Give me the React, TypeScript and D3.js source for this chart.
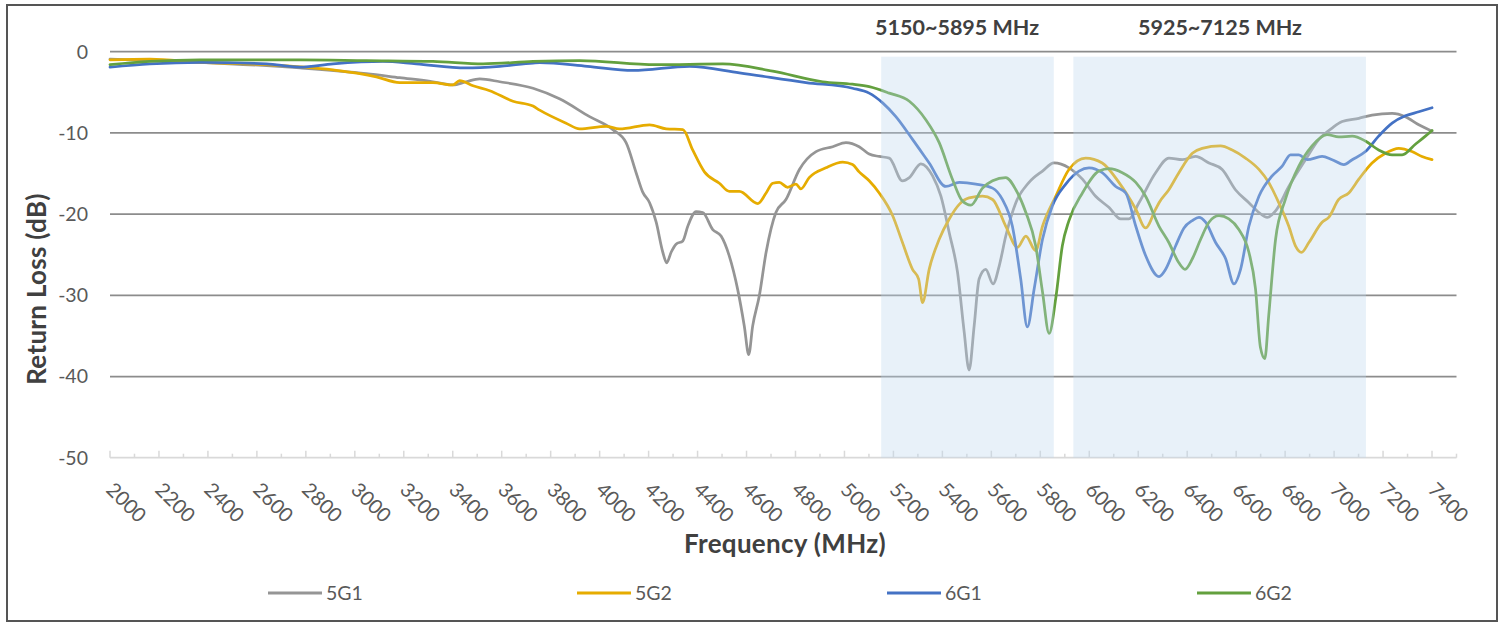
import React from "react";
import * as d3 from "d3";

type Pt = [number, number];

const seriesNames = ["5G1", "5G2", "6G1", "6G2"];
const seriesColors = ["#959595", "#E6AC00", "#4472C4", "#63A03E"];

const s5G1: Pt[] = [
  [2000, -0.9], [2367, -1.3], [2776, -2.0], [3047, -2.7], [3183, -3.2], [3319, -3.7], [3401, -4.1], [3455, -3.7],
  [3510, -3.35], [3592, -3.7], [3728, -4.5], [3836, -5.8], [3959, -8.0], [4054, -9.6], [4108, -11.2], [4149, -14.9],
  [4176, -17.3], [4204, -18.6], [4231, -21.0], [4258, -24.7], [4274, -26.0], [4292, -24.7], [4312, -23.7], [4340, -23.3],
  [4360, -21.5], [4394, -19.7], [4421, -19.8], [4462, -21.9], [4496, -22.7], [4530, -25.2], [4564, -29.3], [4591, -33.8],
  [4609, -37.3], [4625, -33.8], [4652, -30.1], [4680, -24.7], [4720, -19.8], [4761, -18.2], [4816, -14.5], [4884, -12.3],
  [4952, -11.7], [5006, -11.2], [5060, -11.7], [5101, -12.6], [5142, -12.9], [5183, -13.1], [5237, -15.9], [5265, -15.5],
  [5312, -13.8], [5360, -15.3], [5394, -17.8], [5428, -22.3], [5462, -27.2], [5489, -34.5], [5509, -39.2], [5530, -33.7],
  [5550, -28.0], [5577, -26.8], [5607, -28.6], [5632, -26.4], [5659, -22.7], [5700, -18.6], [5754, -16.1], [5809, -14.7],
  [5856, -13.7], [5917, -14.3], [5972, -15.7], [6026, -17.8], [6081, -19.2], [6128, -20.6], [6162, -20.6], [6203, -18.6],
  [6271, -14.9], [6325, -13.1], [6380, -13.3], [6434, -12.9], [6489, -13.7], [6543, -14.5], [6597, -17.0], [6652, -18.6],
  [6693, -19.8], [6727, -20.4], [6761, -19.6], [6815, -16.6], [6883, -13.3], [6938, -10.8], [6992, -9.4], [7033, -8.6],
  [7101, -8.2], [7155, -7.8], [7237, -7.6], [7291, -8.0], [7346, -9.0], [7400, -9.8],
];

const s5G2: Pt[] = [
  [2000, -1.0], [2163, -0.9], [2367, -1.3], [2639, -1.6], [2911, -2.25], [3020, -2.7], [3088, -3.1], [3183, -3.8],
  [3319, -3.8], [3401, -4.1], [3428, -3.55], [3483, -4.2], [3551, -4.8], [3646, -6.1], [3728, -6.7], [3755, -7.2],
  [3863, -8.8], [3918, -9.5], [4027, -9.2], [4081, -9.5], [4204, -9.0], [4272, -9.5], [4340, -9.6], [4380, -12.1],
  [4428, -14.8], [4489, -16.2], [4530, -17.2], [4571, -17.2], [4646, -18.7], [4680, -17.4], [4707, -16.2], [4734, -16.1],
  [4768, -16.7], [4802, -16.3], [4822, -16.9], [4856, -15.5], [4924, -14.3], [4993, -13.6], [5033, -13.9], [5060, -14.8],
  [5101, -15.9], [5142, -17.4], [5197, -20.2], [5237, -23.5], [5278, -26.8], [5303, -28.0], [5319, -30.9], [5346, -26.8],
  [5387, -23.1], [5428, -20.6], [5469, -18.8], [5509, -18.0], [5564, -17.8], [5605, -18.2], [5659, -21.5], [5707, -24.1],
  [5741, -22.7], [5781, -24.5], [5809, -21.5], [5863, -17.8], [5917, -14.5], [5985, -13.1], [6053, -13.7], [6121, -16.1],
  [6190, -19.4], [6230, -21.7], [6271, -19.4], [6285, -18.6], [6325, -17.0], [6366, -14.9], [6421, -12.5], [6461, -11.9],
  [6536, -11.6], [6584, -12.1], [6638, -13.1], [6693, -14.5], [6733, -16.1], [6774, -18.6], [6815, -21.5], [6842, -23.9],
  [6867, -24.7], [6897, -23.5], [6951, -21.0], [6978, -20.4], [7019, -18.2], [7060, -17.4], [7101, -15.7], [7155, -13.7],
  [7210, -12.5], [7264, -11.9], [7318, -12.3], [7359, -12.9], [7400, -13.3],
];

const s6G1: Pt[] = [
  [2000, -1.9], [2163, -1.5], [2367, -1.3], [2639, -1.5], [2776, -1.9], [2911, -1.5], [3115, -1.2], [3251, -1.5],
  [3455, -2.0], [3592, -1.8], [3728, -1.4], [3755, -1.35], [3950, -1.8], [4136, -2.3], [4367, -1.8], [4571, -2.6],
  [4843, -3.8], [5033, -4.5], [5101, -5.1], [5156, -6.3], [5210, -8.0], [5278, -10.8], [5346, -13.7], [5414, -16.6],
  [5469, -16.1], [5537, -16.3], [5605, -16.8], [5645, -18.2], [5686, -21.5], [5720, -28.0], [5747, -33.9], [5775, -29.2],
  [5809, -23.1], [5849, -19.0], [5904, -16.3], [5958, -14.7], [5999, -14.3], [6053, -14.9], [6108, -16.6], [6149, -17.4],
  [6190, -21.5], [6230, -25.1], [6285, -27.7], [6312, -26.8], [6353, -23.9], [6387, -21.7], [6421, -20.8], [6448, -20.4],
  [6475, -21.0], [6516, -23.5], [6557, -25.5], [6591, -28.6], [6618, -26.8], [6652, -21.5], [6693, -17.8], [6747, -15.3],
  [6788, -14.1], [6822, -12.7], [6856, -12.7], [6890, -13.3], [6951, -12.9], [6992, -13.3], [7040, -13.9], [7074, -13.3],
  [7128, -12.3], [7182, -10.4], [7237, -8.8], [7291, -7.9], [7346, -7.4], [7400, -6.9],
];

const s6G2: Pt[] = [
  [2000, -1.6], [2163, -1.2], [2367, -1.0], [2776, -1.0], [3047, -1.1], [3319, -1.2], [3524, -1.5], [3728, -1.2],
  [3918, -1.1], [4231, -1.6], [4503, -1.5], [4707, -2.4], [4911, -3.7], [5033, -4.0], [5101, -4.3], [5183, -5.1],
  [5265, -6.1], [5333, -8.4], [5387, -11.2], [5441, -15.7], [5482, -18.4], [5516, -18.9], [5564, -16.8], [5605, -15.9],
  [5659, -15.5], [5700, -17.0], [5741, -19.8], [5781, -23.9], [5809, -29.6], [5836, -34.7], [5863, -30.4], [5890, -23.9],
  [5917, -20.8], [5972, -17.4], [6040, -14.7], [6081, -14.4], [6135, -14.9], [6190, -16.1], [6230, -17.8], [6285, -21.5],
  [6325, -23.5], [6366, -26.0], [6391, -26.8], [6421, -25.5], [6455, -23.1], [6489, -21.0], [6530, -20.2], [6570, -20.6],
  [6611, -21.9], [6652, -24.7], [6679, -29.2], [6699, -36.4], [6717, -37.8], [6733, -32.5], [6761, -23.1], [6801, -18.2],
  [6856, -14.1], [6910, -11.6], [6971, -10.2], [7019, -10.5], [7074, -10.4], [7128, -11.0], [7182, -12.1], [7237, -12.7],
  [7278, -12.7], [7332, -11.4], [7373, -10.4], [7400, -9.7],
];

const allSeries = [s5G1, s5G2, s6G1, s6G2];

const yTicks = [0, -10, -20, -30, -40, -50];
const xLabelTicks = d3.range(2000, 7401, 200);
const xMinorTicks = d3.range(2100, 7501, 200);
const bands: [number, number][] = [
  [5150, 5855],
  [5935, 7130],
];
const bandLabels = ["5150~5895 MHz", "5925~7125 MHz"];
const bandLabelFreqs = [5460, 6534];

const FONT = "Lato, 'Open Sans', sans-serif";

export default function App() {
  const W = 1499, H = 622;
  const x = d3.scaleLinear().domain([2000, 7500]).range([110, 1456.5]);
  const y = d3.scaleLinear().domain([-50, 0]).range([457.7, 51.7]);
  const line = d3.line<Pt>().x((d) => x(d[0])).y((d) => y(d[1])).curve(d3.curveMonotoneX);
  const legendX = [268, 577, 887, 1197];
  const axisY = y(-50);

  return (
    <svg width={W} height={H} style={{ position: "absolute", left: 0, top: 0, display: "block", background: "#fff" }} fontFamily={FONT}>
      <rect x={0} y={0} width={W} height={H} fill="#fff" />
      <rect x={7} y={5} width={1490} height={616} fill="#fff" stroke="#555" strokeWidth={2} />
      {yTicks.filter((t) => t !== -50).map((t) => (
        <line key={t} x1={110} x2={1456.5} y1={y(t)} y2={y(t)} stroke="#8C8C8C" strokeWidth={1.75} />
      ))}
      <line x1={110} x2={1456.5} y1={axisY} y2={axisY} stroke="#D9D9D9" strokeWidth={1.75} />
      {xLabelTicks.map((t) => (
        <line key={"M" + t} x1={x(t)} x2={x(t)} y1={axisY} y2={axisY - 7} stroke="#D9D9D9" strokeWidth={1.5} />
      ))}
      {xMinorTicks.map((t) => (
        <line key={"m" + t} x1={x(t)} x2={x(t)} y1={axisY} y2={axisY - 4} stroke="#D9D9D9" strokeWidth={1.5} />
      ))}
      {allSeries.map((s, i) => (
        <path key={i} d={line(s) || ""} fill="none" stroke={seriesColors[i]} strokeWidth={2.75} strokeLinejoin="round" strokeLinecap="round" />
      ))}
      {bands.map(([a, b], i) => (
        <g key={i}>
          <rect x={x(a)} y={56.7} width={x(b) - x(a)} height={axisY - 56.7} fill="#BDD7EE" fillOpacity={0.35} />
          <text x={x(bandLabelFreqs[i])} y={35} textAnchor="middle" fontWeight="bold" fontSize={21.5} fill="#404040">
            {bandLabels[i]}
          </text>
        </g>
      ))}
      {yTicks.map((t) => (
        <text key={t} x={88} y={y(t)} dy="0.35em" textAnchor="end" fontSize={19.5} fill="#595959">
          {t}
        </text>
      ))}
      {xLabelTicks.map((t) => (
        <text key={t} transform={`translate(${x(t) - 5},491) rotate(45)`} fontSize={20} fill="#595959">
          {t}
        </text>
      ))}
      <text x={785} y={553} textAnchor="middle" fontWeight="bold" fontSize={26} letterSpacing={0.3} fill="#404040">
        Frequency (MHz)
      </text>
      <text transform="translate(46,289) rotate(-90)" textAnchor="middle" fontWeight="bold" fontSize={26} letterSpacing={0.3} fill="#404040">
        Return Loss (dB)
      </text>
      {seriesNames.map((n, i) => (
        <g key={n}>
          <line x1={legendX[i]} x2={legendX[i] + 54} y1={593} y2={593} stroke={seriesColors[i]} strokeWidth={3} />
          <text x={legendX[i] + 58} y={593} dy="0.35em" fontSize={19.5} fill="#595959">
            {n}
          </text>
        </g>
      ))}
    </svg>
  );
}
